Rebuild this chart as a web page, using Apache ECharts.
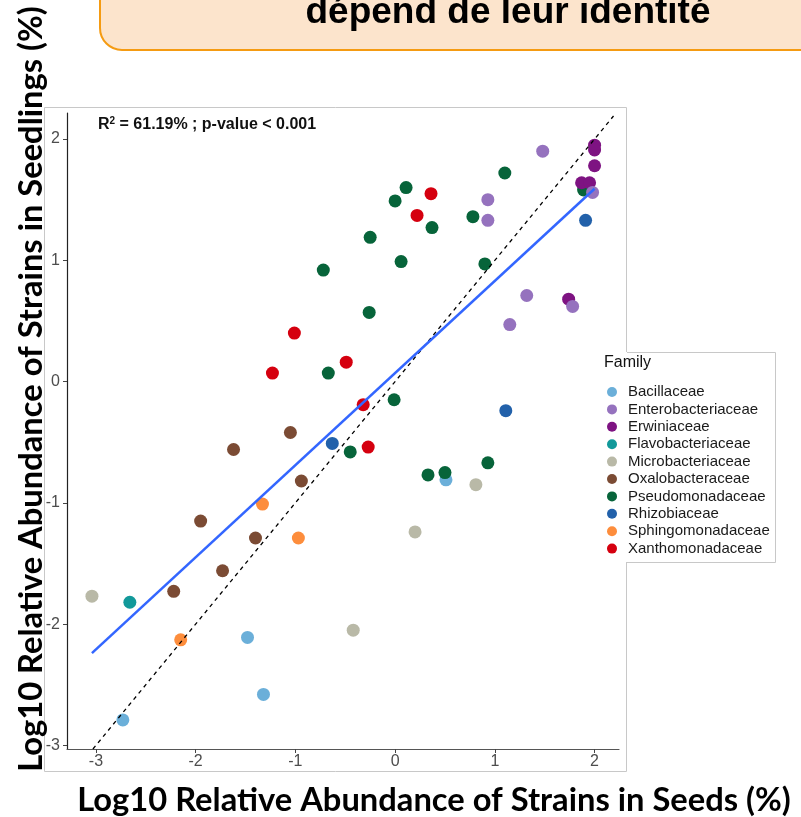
<!DOCTYPE html>
<html>
<head>
<meta charset="utf-8">
<script src="https://cdn.jsdelivr.net/npm/echarts@6/dist/echarts.min.js"></script>
<style>
html,body{margin:0;padding:0;background:#fff;}
#chart{width:801px;height:817px;}
</style>
</head>
<body>
<div id="chart"></div>
<script>
// ---- data ----
const families = ['Bacillaceae','Enterobacteriaceae','Erwiniaceae','Flavobacteriaceae','Microbacteriaceae','Oxalobacteraceae','Pseudomonadaceae','Rhizobiaceae','Sphingomonadaceae','Xanthomonadaceae'];
const familyColors = ['#6BAFD9','#9572BE','#7E1382','#12999A','#B9B9A7','#7B4B34','#07643A','#2261AA','#FD8D3C','#D5000F'];

const bacillaceae = [[0.51,-0.81],[-1.48,-2.11],[-1.32,-2.58],[-2.73,-2.79]];
const enterobacteriaceae = [[1.48,1.90],[0.93,1.50],[0.93,1.33],[1.32,0.71],[1.78,0.62],[1.15,0.47],[1.98,1.56]];
const erwiniaceae = [[2.00,1.95],[2.00,1.91],[2.00,1.78],[1.87,1.64],[1.95,1.64],[1.74,0.68]];
const flavobacteriaceae = [[-2.66,-1.82]];
const microbacteriaceae = [[-3.04,-1.77],[-0.42,-2.05],[0.81,-0.85],[0.20,-1.24]];
const oxalobacteraceae = [[-1.05,-0.42],[-1.62,-0.56],[-0.94,-0.82],[-1.95,-1.15],[-1.40,-1.29],[-1.73,-1.56],[-2.22,-1.73]];
const pseudomonadaceae = [[1.10,1.72],[0.78,1.36],[0.90,0.97],[0.11,1.60],[0.00,1.49],[0.37,1.27],[-0.25,1.19],[0.06,0.99],[-0.26,0.57],[-0.72,0.92],[-0.67,0.07],[-0.45,-0.58],[-0.01,-0.15],[0.33,-0.77],[0.50,-0.75],[0.93,-0.67],[1.89,1.58]];
const rhizobiaceae = [[1.91,1.33],[-0.63,-0.51],[1.11,-0.24]];
const sphingomonadaceae = [[-1.33,-1.01],[-0.97,-1.29],[-2.15,-2.13]];
const xanthomonadaceae = [[0.36,1.55],[0.22,1.37],[-1.01,0.40],[-0.49,0.16],[-1.23,0.07],[-0.32,-0.19],[-0.27,-0.54]];

const regressionLine = [[-3.04,-2.24],[2.00,1.59]];
const identityLine = [[-3.03,-3.03],[2.19,2.19]];

const xTicks = [-3,-2,-1,0,1,2];
const yTicks = [-3,-2,-1,0,1,2];

const xTitle = 'Log10 Relative Abundance of Strains in Seeds (%)';
const yTitle = 'Log10 Relative Abundance of Strains in Seedlings (%)';
const slideTitle = 'dépend de leur identité';
const statsText = ['R', '2', ' = 61.19% ; p-value < 0.001'];
const legendTitle = 'Family';

// ---- chart ----
const familyData = [bacillaceae, enterobacteriaceae, erwiniaceae, flavobacteriaceae, microbacteriaceae, oxalobacteraceae, pseudomonadaceae, rhizobiaceae, sphingomonadaceae, xanthomonadaceae];
const familyZ = [1,4,3,2,2,2,2,2,2,2];

const chart = echarts.init(document.getElementById('chart'), null, {renderer:'canvas'});

const series = families.map((name, i) => ({
  name: name,
  type: 'scatter',
  data: familyData[i],
  symbol: 'circle',
  symbolSize: 13,
  z: familyZ[i],
  itemStyle: {color: familyColors[i], opacity: 1},
  emphasis: {disabled: true},
  silent: true
}));

series.push({
  name: 'fit', type: 'line', data: regressionLine, symbol: 'none', z: 6, silent: true,
  lineStyle: {color: '#3366FF', width: 2.5}
});
series.push({
  name: 'identity', type: 'line', data: identityLine, symbol: 'none', z: 5, silent: true,
  lineStyle: {color: '#000', width: 1.3, type: [4,4]}
});

const option = {
  animation: false,
  backgroundColor: '#fff',
  grid: {left: 67, top: 113, width: 552, height: 636, containLabel: false, outerBoundsMode: 'none'},
  xAxis: {
    type: 'value', min: -3.29, max: 2.245,
    splitLine: {show: false},
    axisLine: {show: true, onZero: false, lineStyle: {color: '#555', width: 1.2}},
    axisTick: {show: true, length: 4, customValues: xTicks, lineStyle: {color: '#444'}},
    axisLabel: {customValues: xTicks, margin: 5, color: '#4D4D4D', fontFamily: 'Liberation Sans', fontSize: 16}
  },
  yAxis: {
    type: 'value', min: -3.03, max: 2.215,
    splitLine: {show: false},
    axisLine: {show: true, onZero: false, lineStyle: {color: '#222', width: 1.2}},
    axisTick: {show: true, length: 4, customValues: yTicks, lineStyle: {color: '#444'}},
    axisLabel: {customValues: yTicks, margin: 7, color: '#4D4D4D', fontFamily: 'Liberation Sans', fontSize: 16}
  },
  legend: {
    data: families,
    orient: 'vertical',
    left: 607, top: 384.5,
    padding: 0,
    itemGap: 2.4,
    itemWidth: 10, itemHeight: 10,
    icon: 'circle',
    selectedMode: false,
    z: 20,
    textStyle: {fontFamily: 'Liberation Sans', fontSize: 15, lineHeight: 15, color: '#1a1a1a', padding: [0,0,0,6]}
  },
  graphic: [
    // outer plot frame
    {type: 'rect', z: 0, silent: true, shape: {x: 44.5, y: 107.5, width: 582, height: 664},
     style: {fill: 'none', stroke: '#C8C8C8', lineWidth: 1}},
    // legend box
    {type: 'rect', z: 10, silent: true, shape: {x: 596, y: 352, width: 179.5, height: 210},
     style: {fill: '#fff', stroke: 'none'}},
    {type: 'polyline', z: 10, silent: true, shape: {points: [[627,352.5],[775.5,352.5],[775.5,562.5],[627,562.5]]},
     style: {fill: 'none', stroke: '#C8C8C8', lineWidth: 1}},
    {type: 'text', z: 11, silent: true, x: 604, y: 363,
     style: {text: legendTitle, font: '16px "Liberation Sans"', fill: '#111', align: 'left', verticalAlign: 'middle'}},
    // slide title box
    {type: 'rect', z: 0, silent: true, shape: {x: 100, y: -40, width: 760, height: 90, r: 22},
     style: {fill: '#FCE4CC', stroke: '#F59B12', lineWidth: 2}},
    {type: 'text', z: 1, silent: true, x: 508, y: 13,
     style: {text: slideTitle, font: 'bold 37px "Liberation Sans"', fill: '#000', align: 'center', verticalAlign: 'middle'}},
    // stats annotation
    {type: 'text', z: 12, silent: true, x: 98, y: 125,
     style: {
       text: '{a|' + statsText[0] + '}{s|' + statsText[1] + '}{a|' + statsText[2] + '}',
       align: 'left', verticalAlign: 'middle',
       rich: {
         a: {fontFamily: 'Liberation Sans', fontWeight: 'bold', fontSize: 16, lineHeight: 18, fill: '#111', color: '#111'},
         s: {fontFamily: 'Liberation Sans', fontWeight: 'bold', fontSize: 10, lineHeight: 10, verticalAlign: 'top', fill: '#111', color: '#111'}
       }
     }},
    // axis titles
    {type: 'text', z: 12, silent: true, x: 434, y: 800,
     style: {text: xTitle, font: 'bold 32.7px Lato', fill: '#000', align: 'center', verticalAlign: 'middle'}},
    {type: 'text', z: 12, silent: true, x: 31, y: 389, rotation: Math.PI / 2,
     style: {text: yTitle, font: 'bold 32.7px Lato', fill: '#000', align: 'center', verticalAlign: 'middle'}}
  ],
  series: series
};
chart.setOption(option);
</script>
</body>
</html>
